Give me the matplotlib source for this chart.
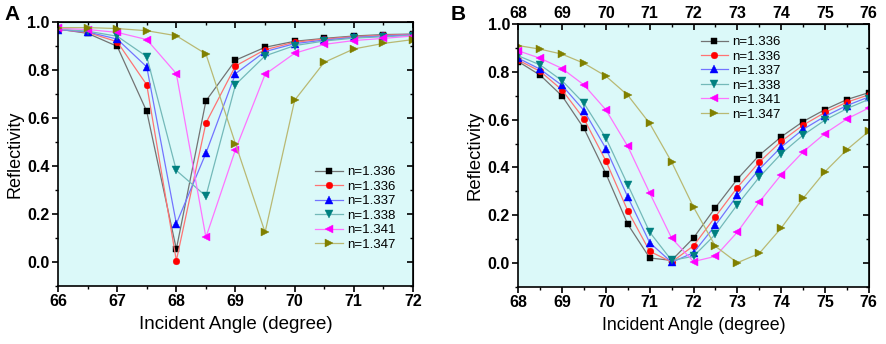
import matplotlib
matplotlib.use("Agg")
import matplotlib.pyplot as plt
from matplotlib.ticker import MultipleLocator, FixedLocator
from matplotlib.colors import to_rgb

plt.rcParams['font.family'] = ['Liberation Sans', 'DejaVu Sans']

labels = ["n=1.336", "n=1.336", "n=1.337", "n=1.338", "n=1.341", "n=1.347"]
colors = ["#000000", "#ff0000", "#0000ff", "#008080", "#ff00ff", "#808000"]
markers = ["s", "o", "^", "v", "<", ">"]

# Panel A
angles_a = [66, 66.5, 67, 67.5, 68, 68.5, 69, 69.5, 70, 70.5, 71, 71.5, 72]
refl_a_1336a = [0.972, 0.954, 0.900, 0.628, 0.054, 0.672, 0.842, 0.896, 0.921, 0.933, 0.943, 0.949, 0.951]
refl_a_1336b = [0.970, 0.958, 0.919, 0.739, 0.006, 0.580, 0.818, 0.886, 0.917, 0.930, 0.940, 0.946, 0.950]
refl_a_1337 = [0.970, 0.960, 0.930, 0.814, 0.160, 0.454, 0.786, 0.878, 0.911, 0.926, 0.937, 0.943, 0.948]
refl_a_1338 = [0.972, 0.963, 0.942, 0.857, 0.382, 0.275, 0.740, 0.860, 0.903, 0.922, 0.934, 0.940, 0.945]
refl_a_1341 = [0.975, 0.970, 0.958, 0.928, 0.786, 0.103, 0.469, 0.783, 0.871, 0.908, 0.924, 0.933, 0.943]
refl_a_1347 = [0.978, 0.978, 0.974, 0.965, 0.944, 0.868, 0.493, 0.124, 0.675, 0.833, 0.889, 0.912, 0.928]

# Panel B
angles_b = [68, 68.5, 69, 69.5, 70, 70.5, 71, 71.5, 72, 72.5, 73, 73.5, 74, 74.5, 75, 75.5, 76]
refl_b_1336a = [0.843, 0.786, 0.699, 0.563, 0.374, 0.162, 0.021, 0.011, 0.105, 0.232, 0.351, 0.451, 0.528, 0.592, 0.642, 0.684, 0.713]
refl_b_1336b = [0.849, 0.802, 0.724, 0.603, 0.427, 0.218, 0.049, 0.004, 0.072, 0.194, 0.316, 0.422, 0.509, 0.577, 0.630, 0.673, 0.704]
refl_b_1337 = [0.857, 0.811, 0.743, 0.638, 0.479, 0.276, 0.085, 0.003, 0.043, 0.158, 0.283, 0.392, 0.485, 0.559, 0.614, 0.659, 0.695]
refl_b_1338 = [0.867, 0.829, 0.763, 0.668, 0.523, 0.327, 0.129, 0.011, 0.028, 0.120, 0.244, 0.359, 0.457, 0.535, 0.598, 0.646, 0.685]
refl_b_1341 = [0.888, 0.857, 0.814, 0.745, 0.641, 0.488, 0.293, 0.104, 0.006, 0.028, 0.129, 0.255, 0.369, 0.465, 0.542, 0.603, 0.649]
refl_b_1347 = [0.910, 0.895, 0.874, 0.836, 0.782, 0.702, 0.584, 0.423, 0.234, 0.070, 0.001, 0.040, 0.146, 0.270, 0.382, 0.474, 0.551]

series_a = [refl_a_1336a, refl_a_1336b, refl_a_1337, refl_a_1338, refl_a_1341, refl_a_1347]
series_b = [refl_b_1336a, refl_b_1336b, refl_b_1337, refl_b_1338, refl_b_1341, refl_b_1347]

fig = plt.figure(figsize=(8.86, 3.44), dpi=100)
axA = fig.add_axes([0.0655, 0.1686, 0.4006, 0.7665])
axB = fig.add_axes([0.585, 0.166, 0.3955, 0.764])

bg = "#dbf9f9"
msizes = {"s": 4.2, "o": 4.8, "^": 5.8, "v": 5.8, "<": 5.8, ">": 5.8}


def lighten(c, f=0.45):
    r, g, b = to_rgb(c)
    return (r + (1 - r) * f, g + (1 - g) * f, b + (1 - b) * f)


def style(ax, xlim, xlabelsize, ylabelsize, top_labels):
    ax.set_facecolor(bg)
    ax.set_ylim(-0.1, 1.0)
    ax.set_xlim(*xlim)
    majors = list(range(int(xlim[0]), int(xlim[1]) + 1))
    minors = [v + 0.5 for v in majors[:-1]]
    ax.set_xticks(majors)
    ax.set_xticks(minors, minor=True)
    ax.yaxis.set_minor_locator(MultipleLocator(0.1))
    ax.set_yticks([0.0, 0.2, 0.4, 0.6, 0.8, 1.0])
    ax.set_yticklabels(["0.0", "0.2", "0.4", "0.6", "0.8", "1.0"])
    for s in ax.spines.values():
        s.set_linewidth(1.2)
    ax.tick_params(which='major', direction='out', length=4, width=1.2,
                   labelsize=11.5, pad=2)
    ax.tick_params(which='minor', direction='out', length=2.5, width=1.0)
    for lab in ax.get_xticklabels() + ax.get_yticklabels():
        lab.set_fontweight('bold')
    ax.set_xlabel("Incident Angle (degree)", fontsize=xlabelsize, labelpad=5)
    ax.set_ylabel("Reflectivity", fontsize=ylabelsize, labelpad=3)
    sx = ax.secondary_xaxis('top')
    sx.set_xticks(majors)
    sx.set_xticks(minors, minor=True)
    sx.tick_params(which='major', direction='in', length=4, width=1.2,
                   labelsize=11.5, pad=2, labeltop=top_labels)
    sx.tick_params(which='minor', direction='in', length=2.5, width=1.0)
    if not top_labels:
        sx.set_xticklabels([])
    for lab in sx.get_xticklabels():
        lab.set_fontweight('bold')
    sy = ax.secondary_yaxis('right')
    sy.set_yticks([0.0, 0.2, 0.4, 0.6, 0.8, 1.0])
    sy.yaxis.set_minor_locator(MultipleLocator(0.1))
    sy.tick_params(which='major', direction='in', length=4, width=1.2,
                   labelright=False)
    sy.tick_params(which='minor', direction='in', length=2.5, width=1.0)
    sy.set_yticklabels([])


for ax, xs, series in [(axA, angles_a, series_a), (axB, angles_b, series_b)]:
    for ys, c, m, lab in zip(series, colors, markers, labels):
        ax.plot(xs, ys, color=lighten(c), lw=0.9, marker=m, markersize=msizes[m],
                markeredgewidth=0.3, markerfacecolor=c, markeredgecolor=c,
                label=lab)

style(axA, (66, 72), 13.5, 13, False)
style(axB, (68, 76), 12.8, 13.3, True)

legkw = dict(frameon=False, fontsize=9.5, handlelength=2.1, handletextpad=0.3,
             labelspacing=0.17, borderaxespad=0, borderpad=0, loc='upper left')
legA = axA.legend(bbox_to_anchor=(0.724, 0.455), **legkw)
legB = axB.legend(bbox_to_anchor=(0.52, 0.955), **legkw)

fig.text(0.005, 0.985, "A", fontsize=15, fontweight='bold', va='top', ha='left')
fig.text(0.509, 0.985, "B", fontsize=15, fontweight='bold', va='top', ha='left')

fig.savefig("out.png", dpi=100)
